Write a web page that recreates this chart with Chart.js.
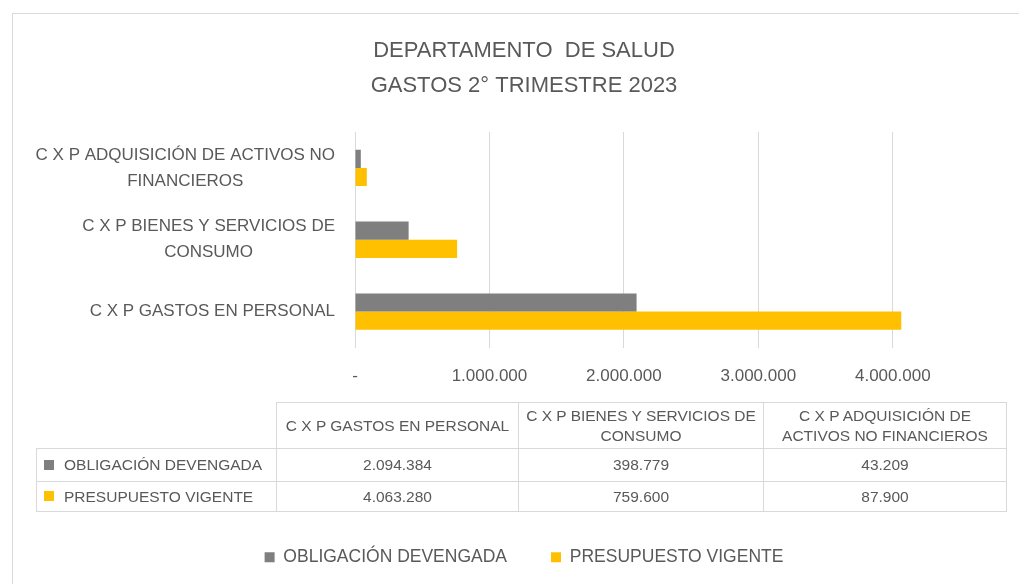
<!DOCTYPE html>
<html><head><meta charset="utf-8">
<script src="https://cdn.jsdelivr.net/npm/chart.js@4.4.1/dist/chart.umd.min.js"></script>
<style>
html,body{margin:0;padding:0;background:#fff;width:1019px;height:584px;overflow:hidden;font-family:'Liberation Sans',Arial,sans-serif;}
#frame{position:absolute;left:12px;top:13px;width:1030px;height:620px;border-left:1px solid #d9d9d9;border-top:1px solid #d9d9d9;}
#wrap{position:absolute;left:13px;top:14px;width:1022px;height:562px;}
#tbl{position:absolute;left:36px;top:402px;border-collapse:collapse;table-layout:fixed;width:970px;color:#595959;font-size:15.5px;}
#tbl td{border:1px solid #d9d9d9;text-align:center;padding:0;line-height:20px;white-space:nowrap;}
#tbl td.blank{border:none;}
#tbl tr.hdr td{height:45px;}
#tbl tr.row td{height:32px;}
#tbl tr.row.last td{height:29px;}
#tbl td.lbl{text-align:left;padding-left:7px;}
.key{display:inline-block;width:10px;height:10px;margin-right:10px;position:relative;top:-1px;vertical-align:middle;}
</style>
</head><body>
<div id="frame"></div>
<div id="wrap"><canvas id="c" width="1022" height="562" style="width:1022px;height:562px"></canvas></div>
<table id="tbl"></table>
<script>
// ---- data ----
const titleLines = ['DEPARTAMENTO  DE SALUD', 'GASTOS 2° TRIMESTRE 2023'];
const categories = ['C X P GASTOS EN PERSONAL', 'C X P BIENES Y SERVICIOS DE CONSUMO', 'C X P ADQUISICIÓN DE ACTIVOS NO FINANCIEROS'];
const axisLabelLines = [['C X P GASTOS EN PERSONAL'], ['C X P BIENES Y SERVICIOS DE', 'CONSUMO'], ['C X P ADQUISICIÓN DE ACTIVOS NO', 'FINANCIEROS']];
const tableHeaderLines = [['C X P GASTOS EN PERSONAL'], ['C X P BIENES Y SERVICIOS DE', 'CONSUMO'], ['C X P ADQUISICIÓN DE', 'ACTIVOS NO FINANCIEROS']];
const seriesNames = ['OBLIGACIÓN DEVENGADA', 'PRESUPUESTO VIGENTE'];
const obligacionDevengada = [2094384, 398779, 43209];
const presupuestoVigente = [4063280, 759600, 87900];
const xTickValues = [0, 1000000, 2000000, 3000000, 4000000];
const axisMax = 4500000;

// ---- style ----
const seriesColors = ['#7F7F7F', '#FFC000'];
const textColor = '#595959';
const FONT = "'Liberation Sans', Arial, sans-serif";

function fmt(v) { return String(v).replace(/\B(?=(\d{3})+(?!\d))/g, '.'); }

Chart.defaults.font.family = FONT;
Chart.defaults.color = textColor;

const yLabelPlugin = {
  id: 'yLabels',
  afterDraw(chart) {
    const ctx = chart.ctx, ys = chart.scales.y;
    ctx.save();
    ctx.font = '17px ' + FONT;
    ctx.fillStyle = textColor;
    ctx.textAlign = 'center';
    ctx.textBaseline = 'middle';
    const right = chart.chartArea.left - 20;
    const lh = 26;
    axisLabelLines.forEach((lines, i) => {
      const cy = ys.getPixelForValue(i);
      const w = Math.max(...lines.map(l => ctx.measureText(l).width));
      const cx = right - w / 2;
      lines.forEach((l, j) => ctx.fillText(l, cx, cy + (j - (lines.length - 1) / 2) * lh));
    });
    ctx.restore();
  }
};

new Chart(document.getElementById('c'), {
  type: 'bar',
  data: {
    labels: categories,
    datasets: [
      { label: seriesNames[0], data: obligacionDevengada, backgroundColor: seriesColors[0], borderWidth: 0 },
      { label: seriesNames[1], data: presupuestoVigente, backgroundColor: seriesColors[1], borderWidth: 0 }
    ]
  },
  options: {
    indexAxis: 'y',
    responsive: false,
    animation: false,
    layout: { padding: 0 },
    datasets: { bar: { categoryPercentage: 0.505, barPercentage: 1.0 } },
    scales: {
      x: {
        min: 0, max: axisMax,
        afterBuildTicks: s => { s.ticks = xTickValues.map(v => ({ value: v })); },
        ticks: { padding: 19, font: { size: 17 }, color: textColor, maxRotation: 0, autoSkip: false,
          callback: v => v === 0 ? '-' : fmt(v) },
        grid: { color: '#d9d9d9', drawTicks: false, lineWidth: 1 },
        border: { display: false },
        title: { display: true, text: '', font: { size: 10 }, padding: { top: 0, bottom: 86.6 } }
      },
      y: {
        reverse: true,
        ticks: { display: false },
        grid: { display: false, drawTicks: false },
        border: { display: false },
        afterFit: s => { s.width = 342; }
      },
      y2: {
        type: 'linear', position: 'right',
        ticks: { display: false },
        grid: { display: false, drawTicks: false },
        border: { display: false },
        afterFit: s => { s.width = 75; }
      }
    },
    plugins: {
      title: { display: true, text: titleLines, font: { size: 22, weight: 'normal', lineHeight: 35 / 22 },
        color: textColor, padding: { top: 19, bottom: 29 } },
      legend: { position: 'bottom',
        labels: { boxWidth: 10, boxHeight: 10, padding: 44, font: { size: 17.5 }, color: textColor } },
      tooltip: { enabled: false }
    }
  },
  plugins: [yLabelPlugin]
});

// ---- data table ----
const tbl = document.getElementById('tbl');
let html = '<colgroup><col style="width:240px"><col style="width:242px"><col style="width:245px"><col style="width:243px"></colgroup>';
html += '<tr class="hdr"><td class="blank"></td>' + tableHeaderLines.map(l => '<td>' + l.join('<br>') + '</td>').join('') + '</tr>';
[obligacionDevengada, presupuestoVigente].forEach((vals, k) => {
  html += '<tr class="row' + (k === 1 ? ' last' : '') + '"><td class="lbl"><span class="key" style="background:' + seriesColors[k] + '"></span>' + seriesNames[k] + '</td>' +
    vals.map(v => '<td>' + fmt(v) + '</td>').join('') + '</tr>';
});
tbl.innerHTML = html;
</script>
</body></html>
